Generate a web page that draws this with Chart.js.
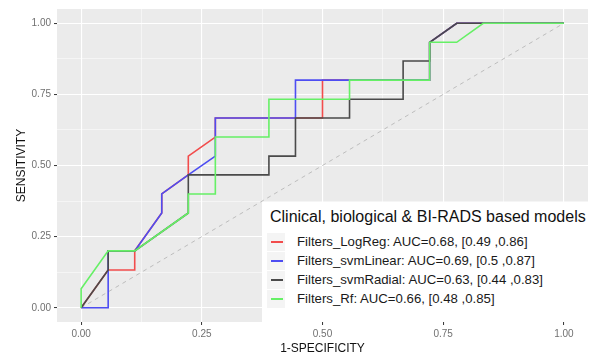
<!DOCTYPE html>
<html>
<head>
<meta charset="utf-8">
<script src="https://cdn.jsdelivr.net/npm/chart.js@4.4.1/dist/chart.umd.min.js"></script>
<style>
  body { margin: 0; background: #fff; }
  #wrap { position: relative; width: 592px; height: 356px; font-family: "Liberation Sans", Arial, sans-serif; }
  #legend { position: absolute; left: 262px; top: 202px; width: 328px; height: 120px; background: #fff; }
  #legend .title { position: absolute; left: 8px; top: 6px; font-size: 16px; color: #111; white-space: nowrap; }
  #legend .key { position: absolute; left: 5px; width: 18px; height: 18px; background: #f4f4f4; }
  #legend .key i { position: absolute; left: 4px; top: 8px; width: 12px; height: 2px; display: block; }
  #legend .lab { position: absolute; left: 35px; font-size: 13.2px; color: #1a1a1a; white-space: nowrap; line-height: 16px; }
</style>
</head>
<body>
<div id="wrap">
  <canvas id="chart" width="592" height="356"></canvas>
  <div id="legend"></div>
</div>
<script>
// ROC curves (FPR = 1-specificity, TPR = sensitivity)
const logRegX = [0, 0.056, 0.111, 0.111, 0.167, 0.167, 0.222, 0.222, 0.278, 0.278, 0.5, 0.5, 0.556, 0.722, 0.722, 0.778, 1];
const logRegY = [0, 0.133, 0.133, 0.2, 0.333, 0.4, 0.467, 0.533, 0.6, 0.667, 0.667, 0.8, 0.8, 0.8, 0.933, 1, 1];

const svmLinearX = [0, 0.056, 0.056, 0.111, 0.167, 0.167, 0.222, 0.278, 0.278, 0.444, 0.444, 0.556, 0.722, 0.722, 0.778, 1];
const svmLinearY = [0, 0, 0.2, 0.2, 0.333, 0.4, 0.467, 0.533, 0.667, 0.667, 0.8, 0.8, 0.8, 0.933, 1, 1];

const svmRadialX = [0, 0.056, 0.056, 0.111, 0.222, 0.222, 0.389, 0.389, 0.444, 0.444, 0.556, 0.556, 0.667, 0.667, 0.722, 0.722, 0.778, 1];
const svmRadialY = [0, 0.133, 0.2, 0.2, 0.333, 0.467, 0.467, 0.533, 0.533, 0.667, 0.667, 0.733, 0.733, 0.867, 0.867, 0.933, 1, 1];

const rfX = [0, 0, 0.056, 0.111, 0.222, 0.222, 0.278, 0.278, 0.389, 0.389, 0.556, 0.556, 0.722, 0.722, 0.778, 0.833, 1];
const rfY = [0, 0.067, 0.2, 0.2, 0.333, 0.4, 0.4, 0.6, 0.6, 0.733, 0.733, 0.8, 0.8, 0.933, 0.933, 1, 1];

const diagX = [0, 1];
const diagY = [0, 1];

const seriesLabels = [
  "Filters_LogReg: AUC=0.68, [0.49 ,0.86]",
  "Filters_svmLinear: AUC=0.69, [0.5 ,0.87]",
  "Filters_svmRadial: AUC=0.63, [0.44 ,0.83]",
  "Filters_Rf: AUC=0.66, [0.48 ,0.85]"
];
const seriesColors = ["#f24c4c", "#4d4df2", "#4a4a4a", "#66f066"];
const legendTitle = "Clinical, biological & BI-RADS based models";

const gridVals = [0, 0.125, 0.25, 0.375, 0.5, 0.625, 0.75, 0.875, 1];

const toPoints = (xs, ys) => xs.map((x, i) => ({ x: x, y: ys[i] }));
const isMajor = v => Math.abs(v * 4 - Math.round(v * 4)) < 1e-6;

const curves = [
  toPoints(logRegX, logRegY),
  toPoints(svmLinearX, svmLinearY),
  toPoints(svmRadialX, svmRadialY),
  toPoints(rfX, rfY)
];

const datasets = curves.map((pts, i) => ({
  label: seriesLabels[i],
  data: pts,
  borderColor: seriesColors[i],
  borderWidth: 1.6,
  pointRadius: 0,
  tension: 0,
  order: 3 - i // green on top, red at the bottom
}));
datasets.push({
  label: "diag",
  data: toPoints(diagX, diagY),
  borderColor: "#bdbdbd",
  borderWidth: 1,
  borderDash: [4, 4],
  pointRadius: 0,
  order: 10
});

const panelBg = {
  id: "panelBg",
  beforeDraw(chart) {
    const { ctx, chartArea: a } = chart;
    ctx.save();
    ctx.fillStyle = "#ebebeb";
    ctx.fillRect(a.left, a.top, a.right - a.left, a.bottom - a.top);
    ctx.restore();
  }
};

function axis(isX) {
  return {
    type: "linear",
    min: -0.05,
    max: 1.05,
    afterBuildTicks: s => { s.ticks = gridVals.map(v => ({ value: v })); },
    afterFit: s => { if (isX) s.height = 34; else s.width = 57; },
    border: { display: false },
    grid: {
      color: "#ffffff",
      lineWidth: c => (isMajor(c.tick.value) ? 1.1 : 0.5),
      tickLength: 3,
      tickColor: c => (isMajor(c.tick.value) ? "#333333" : "rgba(0,0,0,0)"),
      tickWidth: 1
    },
    ticks: {
      autoSkip: false,
      maxRotation: 0,
      padding: 3,
      color: "#707070",
      font: { family: "Liberation Sans, Arial", size: 10 },
      callback: v => (isMajor(v) ? v.toFixed(2) : "")
    },
    title: {
      display: true,
      text: isX ? "1-SPECIFICITY" : "SENSITIVITY",
      color: "#111",
      font: { family: "Liberation Sans, Arial", size: 12 },
      padding: isX ? { top: 3, bottom: 0 } : { top: 14, bottom: 0 }
    }
  };
}

new Chart(document.getElementById("chart"), {
  type: "line",
  data: { datasets: datasets },
  options: {
    responsive: false,
    animation: false,
    layout: { padding: { top: 4, right: 4, left: 0, bottom: 0 } },
    plugins: { legend: { display: false }, tooltip: { enabled: false } },
    scales: { x: axis(true), y: axis(false) }
  },
  plugins: [panelBg]
});

// legend drawn as html text inside the panel
const leg = document.getElementById("legend");
const t = document.createElement("div");
t.className = "title";
t.textContent = legendTitle;
leg.appendChild(t);
const rowCenters = [40, 59, 78, 97];
seriesLabels.forEach((lab, i) => {
  const k = document.createElement("div");
  k.className = "key";
  k.style.top = (rowCenters[i] - 9) + "px";
  const ln = document.createElement("i");
  ln.style.background = seriesColors[i];
  k.appendChild(ln);
  leg.appendChild(k);
  const d = document.createElement("div");
  d.className = "lab";
  d.style.top = (rowCenters[i] - 8) + "px";
  d.textContent = lab;
  leg.appendChild(d);
});
</script>
</body>
</html>
